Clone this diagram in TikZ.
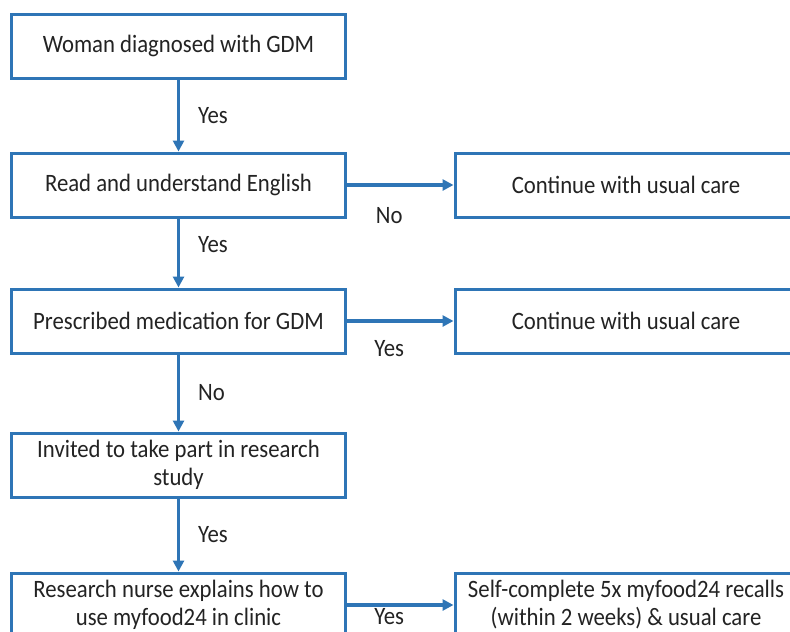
\documentclass[tikz,border=0pt]{standalone}
\usepackage{fontspec}
\setmainfont{Carlito}[FakeStretch=0.91]
\usetikzlibrary{arrows.meta,positioning}
\definecolor{bc}{RGB}{46,117,182}
\definecolor{tc}{RGB}{35,35,35}
\tikzset{box/.style={draw=bc,line width=3pt,fill=white,align=center,text=tc,
   minimum width=334pt,minimum height=64pt,inner sep=2pt},
 rbox/.style={box,minimum width=342pt},
 arr/.style={draw=bc,-{Triangle[length=11pt,width=11pt]},line width=3.2pt},
 lbl/.style={text=tc,inner sep=0pt},
 every node/.style={font=\fontsize{25}{28}\selectfont}}
\begin{document}
\begin{tikzpicture}[x=1pt,y=1pt]
\useasboundingbox (0,0) rectangle (790,-632);
\node[box] (b1) at (178.5,-46) {Woman diagnosed with GDM};
\node[box] (b2) at (178.5,-185) {Read and understand English};
\node[rbox] (r2) at (626,-185) {Continue with usual care};
\node[box] (b3) at (178.5,-321) {Prescribed medication for GDM};
\node[rbox] (r3) at (626,-321) {Continue with usual care};
\node[box] (b4) at (178.5,-465) {Invited to take part in research\\study};
\node[box] (b5) at (178.5,-605) {Research nurse explains how to\\use myfood24 in clinic};
\node[rbox] (r5) at (626,-605) {Self-complete 5x myfood24 recalls\\(within 2 weeks) \& usual care};
% down the left column
\draw[arr] (b1) -- node[lbl,right=18pt] {Yes} (b2);
\draw[arr] (b2) -- node[lbl,right=18pt,yshift=8pt] {Yes} (b3);
\draw[arr] (b3) -- node[lbl,right=18pt] {No} (b4);
\draw[arr] (b4) -- node[lbl,right=18pt] {Yes} (b5);
% across to the right
\draw[arr] (b2) -- node[lbl,below=21pt,xshift=-11pt] {No} (r2);
\draw[arr] (b3) -- node[lbl,below=18pt,xshift=-11pt] {Yes} (r3);
\draw[arr] (b5) -- node[lbl,below=2pt,xshift=-11pt] {Yes} (r5);
\end{tikzpicture}
\end{document}
